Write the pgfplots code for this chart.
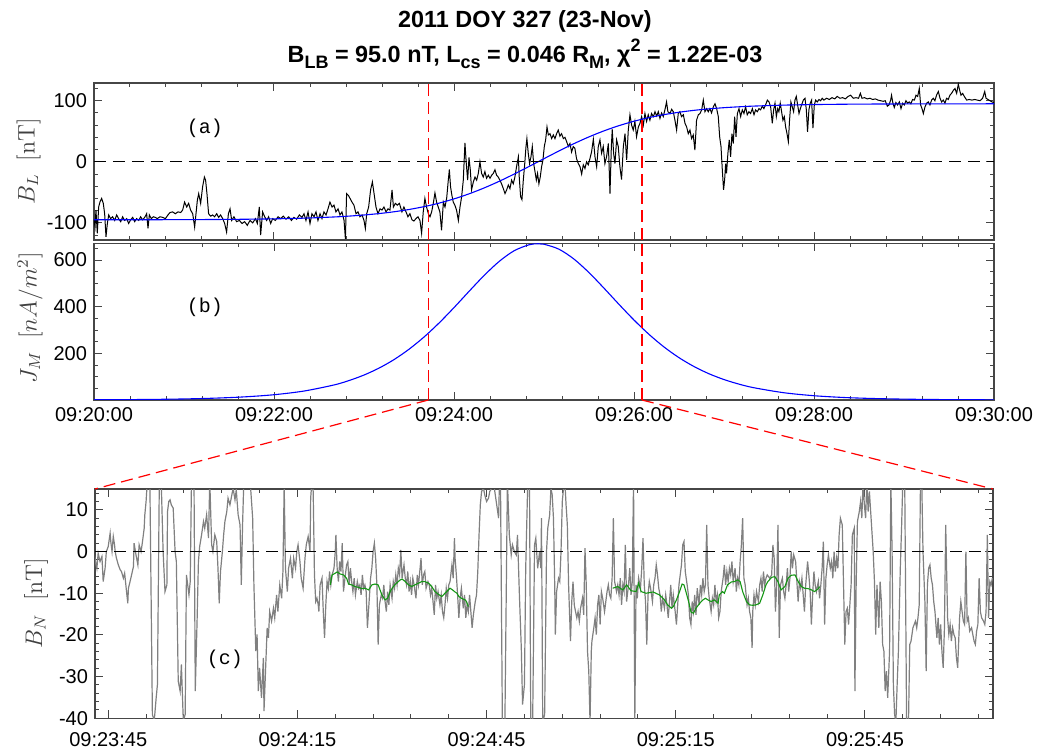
\documentclass[border=0pt]{standalone}
\usepackage[no-math]{fontspec}
\setmainfont{Liberation Sans}
\newfontfamily\panelfont{Liberation Mono}
\usepackage{pgfplots}
\pgfplotsset{compat=1.18}

\definecolor{framegray}{RGB}{70,70,70}
\definecolor{tracegray}{RGB}{128,128,128}
\definecolor{fitgreen}{RGB}{20,150,20}
\definecolor{fitblue}{RGB}{0,0,255}
\definecolor{zoomred}{RGB}{255,0,0}

\newcommand{\sub}[1]{\raisebox{-0.45ex}{\fontsize{9}{10}\selectfont #1}}
\newcommand{\super}[1]{\raisebox{0.95ex}{\fontsize{9}{10}\selectfont #1}}

\tikzset{
  zoomline/.style={zoomred, line width=0.6pt, dash pattern=on 6pt off 3pt},
  zeroline/.style={black, line width=0.5pt, dash pattern=on 6pt off 3.5pt},
}
\pgfplotsset{
  panel/.style={
    scale only axis,
    axis line style={framegray, line width=0.6pt},
    tick style={framegray, line width=0.5pt},
    major tick length=4pt, minor tick length=2pt,
    xtick pos=both, ytick pos=both,
    xticklabel pos=bottom, yticklabel pos=left,
    tick align=inside,
    ticklabel style={font=\fontsize{10}{12}\selectfont, text=black},
    anchor=south west,
  },
}

\begin{document}
\begin{tikzpicture}

% ---------------- (a) B_L with tanh fit ----------------
\begin{axis}[panel, at={(47pt,255pt)}, width=450pt, height=78.5pt,
  xmin=0, xmax=600, ymin=-128, ymax=129,
  xtick={0,120,...,600}, minor xtick={24,48,...,576}, xticklabels={},
  ytick={-100,0,100}, yticklabels={-100,0,100},
  minor ytick={-120,-80,-60,-40,-20,20,40,60,80,120}]
\addplot[black, line width=0.5pt] coordinates {
(0,-95.6) (0.7,-106.6) (1.3,-79) (2.2,-117) (3.1,-74) (4.0,-65.6) (5.1,-60) (6.2,-68) (7.1,-85) (8.0,-123) (8.9,-101) (9.8,-87)
(11.1,-93) (12.4,-90) (13.8,-96) (15.1,-87) (16.4,-93) (17.8,-98) (19.1,-90) (20.4,-96) (21.8,-93) (23.1,-101) (24.4,-95) (25.8,-91)
(27.1,-98) (28.4,-93) (29.8,-96) (31.1,-90) (32.4,-95) (33.8,-91) (35.1,-85) (36.0,-109) (36.9,-87) (38.2,-93) (39.6,-90) (40.9,-91)
(42.2,-93) (44.0,-90) (45.8,-91) (47.6,-93) (49.3,-87) (50.7,-83) (52.4,-82) (54.2,-85) (56.0,-82) (57.8,-83) (59.1,-79) (60.4,-66)
(61.8,-74) (63.1,-68) (64.4,-79) (65.8,-85) (67.1,-107) (68.0,-85) (68.9,-63) (69.8,-52) (71.1,-68) (72.4,-41) (73.6,-25) (74.4,-30)
(75.3,-52) (76.4,-85) (77.8,-89) (79.1,-87) (80.4,-90) (81.8,-85) (83.1,-91) (84.4,-87) (85.8,-93) (87.1,-101) (88.4,-115) (89.6,-85)
(90.7,-77) (91.8,-96) (93.3,-90) (95.1,-98) (96.9,-96) (98.7,-101) (100.4,-98) (102.2,-104) (104.0,-96) (105.8,-100) (107.6,-93)
(108.9,-101) (110.2,-74) (111.1,-120) (112.4,-82) (113.8,-90) (115.1,-96) (116.4,-90) (117.8,-101) (119.1,-93) (120.9,-96) (122.7,-90)
(124.4,-93) (126.2,-89) (128.0,-94) (129.8,-90) (131.6,-96) (133.3,-91) (135.1,-94) (136.9,-87) (138.7,-91) (140.0,-85) (141.3,-96)
(142.7,-82) (144.0,-101) (145.3,-85) (146.7,-90) (148.0,-82) (149.3,-96) (150.7,-85) (152.0,-93) (153.3,-82) (154.7,-87) (156.0,-77)
(157.3,-66) (158.7,-74) (160.0,-71) (161.3,-82) (162.7,-77) (164.0,-87) (165.3,-82) (166.7,-96) (167.6,-126) (168.4,-52) (169.6,-55)
(170.7,-60) (172.0,-66) (173.3,-71) (174.7,-85) (176.0,-82) (177.3,-90) (178.7,-87) (180.0,-96) (180.9,-109) (181.8,-85) (183.1,-74)
(184.4,-46) (185.6,-33) (186.7,-52) (188.0,-74) (189.3,-85) (190.7,-77) (192.0,-79) (193.3,-74) (194.7,-82) (196.0,-77) (197.3,-79)
(198.7,-46) (199.6,-74) (200.9,-68) (202.2,-71) (203.6,-68)
(205.3,-82) (206.6,-74) (208.0,-82) (209.3,-90) (210.6,-85) (212.0,-95) (213.3,-97) (214.6,-93) (216.0,-90) (217.3,-96) (218.4,-117)
(219.5,-82) (220.6,-60) (221.7,-74) (222.9,-85) (224.0,-90) (225.1,-82) (226.2,-68) (227.3,-51) (228.4,-66) (229.5,-74) (230.6,-82)
(231.7,-112) (232.9,-66) (234.0,-74) (235.1,-60) (236.2,-30) (236.9,-12.6) (237.7,-41) (238.6,-55) (239.5,-66) (240.6,-71) (241.7,-79)
(242.9,-96) (244.0,-74) (245.1,-57) (246.2,-30) (247.3,31) (248.2,-3) (249.1,-30) (250.0,7) (250.9,-14) (251.7,-46) (252.9,-33)
(254.0,-25) (255.1,-30) (256.2,-19) (257.3,0) (258.4,-19) (259.5,-25) (260.6,-16) (261.7,-27) (262.9,-22) (264.0,-27) (265.1,-22)
(266.2,-19) (267.3,-13) (268.4,-22) (269.5,-25) (270.6,-30) (271.7,-36) (272.9,-44) (274.0,-52) (275.1,-46) (276.2,-38) (277.3,-44)
(278.4,-30) (279.5,-36) (280.6,-25) (281.7,-8) (282.9,8) (283.5,-25) (284.4,-57) (285.3,-62) (286.2,-30) (287.1,-5) (288.0,25)
(288.6,38) (289.5,14) (290.4,-3) (291.3,8) (292.2,25) (293.1,-3) (294.0,-16) (294.9,-30) (295.7,-19) (296.6,-36) (297.5,-25)
(298.4,-8) (299.3,3) (300.2,25) (301.1,36) (302.0,57) (302.9,44) (304.0,46) (305.1,38) (306.2,44) (307.3,38) (308.4,46) (309.5,52)
(310.6,42) (311.7,46) (312.9,38) (314.0,40) (315.1,33) (316.2,25) (317.3,30) (318.4,16) (319.5,25) (320.6,22) (321.7,5) (322.9,-3)
(324.0,-8) (325.1,-20) (326.2,-5) (327.3,-11) (328.4,0) (329.5,-5) (330.6,5) (331.7,16) (332.9,37) (334.0,8) (335.1,-8) (336.2,25)
(337.3,36) (338.4,14) (339.5,25) (340.6,-3) (341.7,8) (342.9,30) (344.0,-52) (344.9,25) (345.5,53) (346.4,14) (347.3,-3) (348.4,36)
(349.5,25) (350.6,-8) (351.7,-29) (352.9,25) (354.0,46) (355.1,3) (356.2,52) (357.3,77) (358.4,60) (359.5,52) (360.6,66) (361.7,41)
(362.9,57) (364.0,63) (365.1,74) (366.2,60) (367.3,79) (368.4,66) (369.5,77) (370.6,68) (371.7,79) (372.9,74) (374.0,82) (375.1,75)
(376.2,82) (377.3,71) (378.4,80) (379.5,74) (380.6,85) (381.7,98) (382.6,82) (384.0,79) (385.1,86) (386.2,82) (387.3,68) (388.4,52)
(389.5,79) (390.6,82) (391.7,74) (392.9,77) (394.0,63) (395.1,57) (396.2,46) (397.3,52) (398.4,38) (399.5,44) (400.6,19) (401.7,68)
(402.9,77)
(404.0,79) (405.1,85) (406.2,101) (407.3,82) (408.4,87) (409.5,82) (410.6,87) (411.7,80) (412.9,90) (414.0,95) (415.1,87) (416.2,74)
(417.1,41) (418.0,25) (418.9,-14) (419.7,-46) (420.4,-30) (421.1,-3) (421.7,-19) (422.6,14) (423.5,36) (424.4,8) (425.3,46) (426.2,30)
(427.1,74) (428.0,41) (428.9,79) (430.0,87) (431.1,74) (432.2,85) (433.3,79) (434.4,90) (435.5,77) (436.6,82) (437.7,79) (438.9,87)
(440.0,77) (441.1,85) (442.2,82) (443.3,87) (444.4,85) (445.5,91) (446.6,87) (447.7,93) (448.9,101) (450.0,98) (451.1,90) (452.2,63)
(453.1,85) (454.0,96) (454.9,74) (455.8,87) (456.6,82) (457.5,96) (458.4,82) (459.3,68) (460.2,74) (461.1,57) (462.0,46) (462.9,33)
(463.7,68) (464.6,98) (465.5,90) (466.4,82) (467.3,101) (468.2,107) (469.1,93) (470.0,79) (470.9,87) (471.7,93) (472.9,101) (474.0,104)
(474.9,85) (475.7,49) (476.6,85) (477.5,96) (478.4,101) (479.3,55) (480.2,93) (481.1,101) (482.2,98) (483.3,102) (484.4,100) (485.5,104)
(486.6,101) (488.4,104) (490.2,102) (492.0,105) (493.8,103) (495.5,107) (497.3,104) (499.1,105) (500.9,103) (502.7,107) (504.4,109)
(506.2,104) (508.0,105) (509.7,104) (510.9,112) (512.0,104) (513.7,105) (515.5,103) (517.3,104) (519.1,102) (520.9,103) (522.6,101)
(524.4,100) (526.2,99) (527.5,100) (528.9,91) (530.0,93) (531.1,101) (531.7,109) (532.6,96) (533.5,89) (534.6,97) (535.7,93) (536.9,98)
(538.0,87) (539.1,96) (540.2,93) (541.3,100) (542.4,96) (543.5,98) (544.6,95) (545.7,102) (546.9,101) (548.0,109) (549.1,107)
(550.2,120) (551.1,93) (552.0,87) (552.9,79) (554.0,90) (555.1,96) (556.2,98) (557.3,93) (558.4,101) (559.5,104) (560.6,100)
(561.7,109) (562.9,115) (564.0,104) (565.1,98) (566.2,101) (567.3,96) (568.4,104) (569.5,102) (570.6,109) (571.7,112) (572.9,117)
(574.0,120) (575.1,112) (576.2,127) (577.1,117) (578.0,109) (579.1,112) (580.2,107) (581.8,101) (583.5,102) (585.3,101) (587.1,102)
(588.9,101) (590.7,100) (592.4,104) (593.8,115) (594.7,104) (596.0,102) (597.3,100) (598.7,98) (599.9,97)
};
\addplot[fitblue, line width=0.55pt, smooth] coordinates {
(0,-94.94) (20,-94.89) (40,-94.81) (60,-94.68) (80,-94.45) (100,-94.05) (120,-93.38) (140,-92.24) (160,-90.31) (170,-88.89)
(180,-87.08) (190,-84.76) (200,-81.80) (210,-78.06) (220,-73.41) (230,-67.68) (240,-60.73) (250,-52.46) (260,-42.88) (270,-32.08)
(280,-20.21) (290,-7.68) (296,0) (300,5.13) (310,17.76) (320,29.77) (330,40.81) (340,50.65) (350,59.17) (360,66.38) (370,72.35)
(380,77.21) (390,81.12) (400,84.22) (410,86.66) (420,88.57) (430,90.05) (440,91.20) (460,92.77) (480,93.69) (500,94.24) (520,94.55)
(540,94.74) (560,94.85) (580,94.91) (600,94.95)
};
\addplot[zeroline] coordinates {(0,0) (600,0)};
\addplot[zoomline] coordinates {(222.9,-128) (222.9,129)};
\addplot[zoomline] coordinates {(365.3,-128) (365.3,129)};
\node[font=\panelfont\fontsize{10}{12}\selectfont] at (axis cs:74,55) {(a)};
\end{axis}

% ---------------- (b) J_M ----------------
\begin{axis}[panel, at={(47pt,175pt)}, width=450pt, height=78.35pt,
  xmin=0, xmax=600, ymin=0, ymax=672,
  xtick={0,120,...,600}, minor xtick={24,48,...,576},
  xticklabels={09:20:00,09:22:00,09:24:00,09:26:00,09:28:00,09:30:00},
  ytick={200,400,600}, yticklabels={200,400,600},
  minor ytick={50,100,...,650}]
\addplot[fitblue, line width=0.55pt, smooth] coordinates {
(0,0.9) (20,1.5) (40,2.6) (60,4.5) (80,7.8) (100,13.3) (120,22.6) (140,38.4) (160,64.5) (170,83.4) (180,107.0) (190,136.7)
(200,173.2) (210,217.6) (220,270.0) (230,330.0) (240,396.2) (250,465.7) (260,533.5) (270,593.6) (280,639.7) (290,665.6) (296,670)
(300,668.0) (310,646.6) (320,604.2) (330,546.3) (340,479.5) (350,410.1) (360,342.9) (370,281.4) (380,227.4) (390,181.5) (400,143.5)
(410,112.5) (420,87.7) (430,68.0) (440,52.5) (460,31.1) (480,18.3) (500,10.7) (520,6.3) (540,3.7) (560,2.1) (580,1.2) (600,0.7)
};
\addplot[zoomline] coordinates {(222.9,0) (222.9,672)};
\addplot[zoomline] coordinates {(365.3,0) (365.3,672)};
\coordinate (zl) at (axis cs:222.9,0);
\coordinate (zr) at (axis cs:365.3,0);
\node[font=\panelfont\fontsize{10}{12}\selectfont] at (axis cs:74,398) {(b)};
\end{axis}

% ---------------- (c) B_N, zoomed interval ----------------
\begin{axis}[panel, at={(47.5pt,15.85pt)}, width=449pt, height=114.65pt,
  xmin=222.9, xmax=365.3, ymin=-40, ymax=15,
  xtick={225,255,285,315,345},
  xticklabels={09:23:45,09:24:15,09:24:45,09:25:15,09:25:45},
  xticklabel style={yshift=-3.5pt},
  minor xtick={231,237,243,249,261,267,273,279,291,297,303,309,321,327,333,339,351,357,363},
  ytick={-40,-30,...,10}, yticklabels={-40,-30,-20,-10,0,10},
  minor ytick={-38,-36,...,14}]
\addplot[tracegray, line width=0.6pt] coordinates {
(222.6,-2.4) (222.7,-6.4) (222.9,-1.6) (223.2,-4.0) (223.4,-0.4) (223.7,-2.4) (224.0,-1.2) (224.2,-7.2) (224.5,-4.0) (224.7,0)
(225.0,1.2) (225.3,4.4) (225.4,2.4) (225.6,0) (225.8,3.6) (226.0,1.6) (226.1,0) (226.3,-1.6) (226.6,-3.2) (226.9,-4.4) (227.1,-4.8)
(227.4,-6.4) (227.6,-5.2) (227.9,-9.6) (228.1,-12.4) (228.2,-8.8) (228.4,-7.6) (228.7,-5.6) (229.0,-3.6) (229.1,2.0) (229.4,-0.8)
(229.7,-3.2) (229.9,1.6) (230.2,0) (230.4,2.0) (230.7,5.6) (230.8,8.8) (231.0,12.0) (231.2,17) (231.6,17) (232.0,-39.1) (232.3,-40.5)
(232.6,-35.1) (232.8,-31.9) (233.1,17) (233.4,17) (233.7,0) (234.0,-9.6) (234.3,-8.0) (234.4,9.6) (234.6,12.0) (234.8,12.4) (235.0,11.2)
(235.3,10.4) (235.6,0) (235.8,-2.4) (236.1,-31.1) (236.4,-33.5) (236.6,-27.1) (236.9,-40.5) (237.2,-39.1) (237.4,-5.6) (237.6,-8.0)
(237.8,-10.4) (238.0,-7.2) (238.2,17) (238.6,17) (238.8,-33.5) (239.1,-15.9) (239.3,-2.4) (239.5,1.2) (239.8,4.0) (240.1,7.2) (240.3,5.6)
(240.6,8.8) (240.9,3.2) (241.1,17) (241.4,1.6) (241.6,0) (241.9,4.0) (242.2,2.4) (242.4,-4.0) (242.6,-12.4) (242.8,-4.8) (243.1,0)
(243.3,4.0) (243.5,7.2) (243.8,9.6) (244.0,12.8) (244.3,11.2) (244.6,13.6) (244.8,15.2) (245.1,12.4) (245.3,14.8) (245.6,8.8) (245.9,6.4)
(246.1,-8.0) (246.3,6.4) (246.5,17) (246.9,17) (247.5,17) (247.9,8.0) (248.1,-8.0) (248.4,-23.9) (248.6,-19.9) (248.8,-33.5) (249.0,-27.9)
(249.3,-35.1) (249.6,-25.5) (249.7,-38.3) (249.9,-30.3) (250.2,-18.3) (250.4,-20.7) (250.6,-14.4) (250.9,-16.7) (251.2,-13.6) (251.4,-15.9)
(251.7,-10.4) (251.9,-14.4) (252.2,-8.0) (252.5,-11.2) (252.7,-4.8) (252.9,16) (253.1,-4.0) (253.4,-9.6) (253.6,-4.0) (253.9,-1.6)
(254.2,-6.4) (254.4,-1.6) (254.7,-4.0) (254.9,0) (255.1,1.6) (255.4,-2.4) (255.6,-6.4) (255.9,-8.8) (256.2,-1.6) (256.4,1.6) (256.7,3.6)
(257.0,0) (257.1,12.8) (257.3,17) (257.5,14.4) (257.7,-5.6) (257.9,-12.0) (258.1,-11.2) (258.3,-12.8)
(258.4,-14.4) (258.6,-8.0) (258.9,-6.4) (259.1,-14.4) (259.3,-20.7) (259.5,-12.8) (259.7,-7.2) (259.9,-8.8) (260.1,-4.8) (260.3,-8.0)
(260.5,-5.6) (260.8,-4.0) (261.0,0) (261.1,4.0) (261.3,-4.0) (261.5,-7.2) (261.7,-2.4) (261.9,-4.8) (262.1,2.0) (262.3,-9.6) (262.6,-5.6)
(262.8,-3.2) (263.0,-2.4) (263.2,-8.0) (263.4,-4.0) (263.6,-7.2) (263.8,-9.6) (264.0,-6.4) (264.2,-10.4) (264.5,-7.2) (264.7,-8.8)
(264.9,-8.0) (265.1,-10.4) (265.3,-5.6) (265.5,-8.8) (265.7,-8.0) (265.9,-9.6) (266.1,-18.3) (266.4,-11.2) (266.6,-6.4) (266.8,-4.0)
(267.0,0) (267.2,2.0) (267.4,-1.6) (267.6,-8.0) (267.8,-22.3) (268.0,-12.8) (268.3,-10.4) (268.5,-11.2) (268.7,-8.0) (268.9,-12.0)
(269.1,-14.4) (269.3,-9.6) (269.5,-12.8) (269.7,-8.0) (270.0,-11.2) (270.2,-7.2) (270.4,-8.8) (270.6,-5.6) (270.8,-8.0) (271.0,-4.0)
(271.2,-5.6) (271.4,0.4) (271.6,-6.4) (271.9,-3.2) (272.1,-6.4) (272.3,-8.0) (272.5,-4.8) (272.7,-9.6) (272.9,-7.2) (273.1,-10.4)
(273.3,-6.4) (273.5,-8.0) (273.8,-11.2) (274.0,-5.6) (274.2,-8.0) (274.4,-4.8) (274.6,-1.6) (274.8,-8.0) (275.0,-5.6) (275.2,-4.8)
(275.4,-8.8) (275.7,-7.2) (275.9,-8.0) (276.1,-10.4) (276.3,-8.8) (276.5,-12.0) (276.7,-15.2) (276.9,-8.0) (277.1,-11.2) (277.3,-9.6)
(277.6,-12.8) (277.8,-10.4) (278.0,-14.4) (278.2,-15.9) (278.4,-12.8) (278.6,-8.8) (278.8,-11.2) (279.0,-8.0) (279.2,-7.2) (279.5,-3.2)
(279.7,-6.4) (279.9,3.2) (280.0,-1.6) (280.2,-5.6) (280.4,-10.4) (280.6,-15.9) (280.8,-11.2) (281.0,-8.8) (281.3,-13.6) (281.5,-10.4)
(281.7,-15.9) (281.9,-12.8) (282.1,-14.4) (282.3,-10.4) (282.5,-14.4) (282.7,-18.3) (282.9,-15.2) (283.2,-12.0) (283.4,-10.4) (283.6,-4.8)
(283.8,4.0) (284.0,11.2) (284.2,14.4) (284.5,15.2) (284.7,13.6) (285.0,12.0) (285.3,12.8) (285.5,14.4) (285.8,15.2) (286.1,17) (286.3,14.4)
(286.6,11.2) (286.9,8.0) (287.0,14.4) (287.2,17) (287.5,-41) (287.9,-41) (288.3,17) (288.6,4.0) (288.9,-0.8) (289.1,1.6) (289.4,0)
(289.7,-0.8) (289.9,4.0) (290.2,-10.4) (290.5,-23.1) (290.7,-36.7) (291.0,-31.9) (291.2,-4.0) (291.5,15.2) (291.8,17) (292.0,-41) (292.3,-41)
(292.6,1.6) (292.8,3.2) (293.1,-4.0) (293.4,0) (293.6,-4.0)
(293.7,8.0) (293.9,-41) (294.2,-39.1) (294.5,0) (294.7,5.6) (295.0,8.8) (295.2,15.2) (295.4,13.6) (295.6,8.0) (295.8,-8.0) (295.9,-19.9)
(296.1,-9.6) (296.4,-6.4) (296.6,-7.2) (296.8,0) (297.0,12.0) (297.2,15.2) (297.4,17) (297.6,11.2) (297.8,6.4) (298.0,-8.0) (298.3,-21.5)
(298.5,-12.0) (298.7,-7.2) (298.9,-12.8) (299.1,-14.4) (299.3,-15.9) (299.5,-14.4) (299.7,-16.7) (299.9,-13.6) (300.2,-11.2) (300.4,-15.2)
(300.6,0.8) (300.8,-8.0) (301.0,-23.9) (301.2,-28.7) (301.4,-41) (301.6,-23.9) (301.7,-21.5) (302.0,-18.3) (302.2,-15.9) (302.4,-19.9)
(302.6,-12.8) (302.8,-10.4) (303.0,-17.5) (303.2,-9.6) (303.4,-11.2) (303.7,-14.4) (303.9,-12.0) (304.1,-9.6) (304.3,-8.0) (304.5,-10.4)
(304.7,-11.2) (304.9,-6.4) (305.1,8.0) (305.3,-7.2) (305.6,-9.6) (305.8,-8.0) (306.0,-10.4) (306.2,-6.4) (306.4,-12.8) (306.6,-8.0)
(306.8,-9.6) (307.0,1.6) (307.2,-12.0) (307.5,-8.0) (307.7,-4.0) (307.9,-10.4) (308.1,-7.2) (308.3,17) (308.5,-41) (308.7,-8.0)
(308.9,-11.2) (309.1,-6.4) (309.4,-8.8) (309.6,-4.0) (309.8,3.2) (310.0,-8.0) (310.2,-12.0) (310.4,-22.3) (310.6,-10.4) (310.8,-7.2)
(311.0,-8.8) (311.3,-12.0) (311.5,-8.0) (311.7,-6.4) (311.9,-3.2) (312.1,-5.6) (312.3,-8.8) (312.5,-10.4) (312.7,-14.4) (312.9,-11.2)
(313.2,-13.6) (313.4,-10.4) (313.6,-12.8) (313.8,-15.9) (314.0,-12.0) (314.2,-8.0) (314.4,-13.6) (314.6,-10.4) (314.9,-14.4) (315.1,-17.5)
(315.3,-12.8) (315.5,-8.0) (315.7,-5.6) (315.9,-3.2) (316.1,1.6) (316.3,2.4) (316.5,-4.8) (316.8,-8.0) (317.0,-10.4) (317.2,-15.9)
(317.4,-17.5) (317.6,-12.0) (317.8,-14.4) (318.0,-10.4) (318.2,-15.2) (318.4,-8.8) (318.7,-12.8) (318.9,-8.0) (319.1,-10.4) (319.3,-6.4)
(319.5,-9.6) (319.7,-8.0) (319.9,6.4) (320.1,-8.0) (320.3,-11.2) (320.6,-14.4) (320.8,-11.2) (321.0,-12.8) (321.2,-8.0) (321.4,-12.0)
(321.6,-10.4) (321.8,-15.9) (322.0,-14.4) (322.2,-9.6) (322.5,-6.4) (322.7,-3.2) (322.9,-8.0) (323.1,-4.8) (323.3,-7.2) (323.5,-4.0)
(323.7,-5.6) (323.9,-2.4) (324.1,-7.2) (324.4,-4.0) (324.6,-9.6) (324.8,-6.4) (325.0,-8.0) (325.2,-2.4) (325.4,1.6) (325.6,8.0)
(325.8,-6.4) (326.0,-8.0) (326.3,-12.8) (326.5,-11.2) (326.7,-14.4) (326.9,-15.9) (327.1,-23.1) (327.2,-14.4) (327.4,-10.4) (327.6,-12.8)
(327.8,-9.6) (328.1,-12.0) (328.3,-8.0) (328.5,-6.4) (328.7,-9.6) (328.9,-4.8) (329.1,-8.0) (329.3,-6.4) (329.5,-5.6)
(329.9,-6.4) (330.2,-5.6) (330.4,1.6) (330.6,-1.6) (330.8,-14.4) (331.0,-8.0) (331.2,6.4) (331.4,-20.7) (331.6,-8.0) (331.9,-6.4)
(332.1,-9.6) (332.3,-11.2) (332.5,-8.0) (332.7,-4.0) (332.9,-9.6) (333.1,-6.4) (333.3,0) (333.5,-4.0) (333.7,-0.8) (334.0,-2.4)
(334.2,-7.2) (334.4,-12.0) (334.6,-7.2) (334.8,-8.8) (335.0,-6.4) (335.2,-10.4) (335.4,-14.4) (335.6,-8.0) (335.9,-2.4) (336.1,-5.6)
(336.3,-9.6) (336.5,-17.5) (336.7,-10.4) (336.9,-4.8) (337.1,-8.0) (337.3,-9.6) (337.6,-7.2) (337.8,-11.2) (338.0,-8.0) (338.2,-4.0)
(338.4,2.4) (338.6,-17.5) (338.8,-6.4) (339.0,-3.2) (339.2,-0.8) (339.5,-4.0) (339.7,-2.4) (339.9,-6.4) (340.1,0) (340.3,-4.8)
(340.5,-1.6) (340.7,-4.0) (340.9,4.0) (341.1,8.0) (341.4,6.4) (341.6,-8.0) (341.8,-22.3) (342.0,-14.4) (342.2,-13.6) (342.4,-17.5)
(342.6,-12.8) (342.8,-8.0) (343.0,4.0) (343.3,5.6) (343.4,-33.5) (343.6,-8.0) (343.8,7.2) (344.1,9.6) (344.3,12.0) (344.5,8.0) (344.7,17)
(344.9,11.2) (345.1,8.0) (345.3,17) (345.5,9.6) (345.7,14.4) (346.0,7.2) (346.3,0) (346.5,-7.2) (346.7,-19.9) (346.9,-8.0) (347.2,-18.3)
(347.4,-7.2) (347.6,-12.0) (347.8,-22.3) (348.0,-23.9) (348.2,-33.5) (348.4,-28.7) (348.6,-35.1) (348.9,-23.9) (349.1,17) (349.3,0)
(349.5,-31.9) (349.7,-39.1) (349.9,-41) (350.1,-31.9) (350.3,-23.9) (350.6,-4.0) (350.8,5.6) (351.0,17) (351.3,17) (351.6,-41) (351.9,-41)
(352.1,-22.3) (352.3,-21.5) (352.6,-18.3) (352.8,-17.5) (353.0,-16.7) (353.2,-18.3) (353.4,-15.9) (353.6,-12.8) (353.8,17) (354.0,17)
(354.2,0) (354.5,-12.0) (354.7,-28.7) (354.9,-8.0) (355.1,-4.0) (355.3,-3.2) (355.5,-6.4) (355.7,-8.0) (355.9,-12.0) (356.1,-14.4)
(356.4,-20.7) (356.6,-15.9) (356.8,-22.3) (357.0,-17.5) (357.2,-23.9) (357.4,-27.9) (357.6,-18.3) (357.8,6.4) (358.1,-15.9) (358.3,-19.9)
(358.5,-17.5) (358.7,-21.5) (358.9,-18.3) (359.1,-19.9) (359.3,-20.7) (359.5,-25.5) (359.7,-27.9) (360.0,-15.9) (360.2,-12.0) (360.4,-14.4)
(360.6,-16.7) (360.8,-17.5) (361.0,0) (361.2,-16.7) (361.4,-15.9) (361.6,-19.1) (361.9,-18.3) (362.1,-19.9) (362.3,-21.5) (362.5,-22.3)
(362.7,-19.1) (362.9,-17.5) (363.1,-6.4) (363.3,-14.4) (363.5,-15.9) (363.8,-16.7) (364.0,-17.5) (364.2,-14.4) (364.4,4.0) (364.6,-15.9)
(364.8,-7.2) (365.0,-8.0) (365.2,-6.4)
};
\addplot[zeroline] coordinates {(222.9,0) (365.3,0)};
% running mean over the two quiet intervals
\addplot[fitgreen, line width=0.55pt] coordinates {
(260.2,-8.0) (260.5,-5.6) (261.0,-5.2) (261.3,-4.9) (261.8,-5.4) (262.3,-5.6) (262.8,-6.4) (263.1,-7.8) (263.6,-8.0) (264.1,-8.4)
(264.7,-8.6) (265.2,-8.9) (265.7,-8.8) (266.3,-9.2) (266.8,-8.0) (267.3,-7.8) (267.8,-8.0) (268.4,-10.4) (268.9,-11.6) (269.3,-11.2)
(269.7,-9.6) (270.2,-8.4) (270.7,-7.6) (271.3,-6.8) (271.6,-6.6) (272.1,-7.2) (272.6,-8.0) (273.1,-8.4) (273.6,-8.0) (274.2,-7.6)
(274.7,-7.2) (275.2,-7.2) (275.8,-7.6) (276.3,-8.4) (276.8,-9.6) (277.3,-10.2) (277.9,-10.8) (278.4,-10.0) (278.8,-9.4) (279.2,-8.8)
(279.6,-9.2) (279.9,-9.6) (280.3,-10.0) (280.6,-10.8) (281.0,-11.2) (281.6,-11.6) (281.8,-12.0) (282.1,-13.2)
};
\addplot[fitgreen, line width=0.55pt] coordinates {
(305.0,-8.8) (305.8,-8.4) (306.6,-9.2) (307.2,-8.0) (307.9,-9.4) (308.7,-9.6) (309.1,-7.6) (309.5,-9.6) (310.3,-10.0) (311.4,-9.7)
(312.4,-10.4) (313.2,-11.6) (313.7,-12.8) (314.3,-13.6) (314.6,-13.2) (315.1,-11.6) (315.6,-9.6) (316.0,-7.8) (316.3,-8.0) (316.6,-9.6)
(317.1,-12.4) (317.4,-14.5) (317.8,-14.8) (318.2,-13.6) (318.8,-12.4) (319.3,-11.6) (319.7,-11.2) (320.1,-11.6) (320.6,-12.0) (321.1,-11.6)
(321.7,-12.4) (321.9,-10.4) (322.4,-9.6) (322.7,-10.0) (323.2,-8.0) (323.8,-7.3) (324.3,-7.2) (324.8,-6.8) (325.2,-7.2) (325.6,-9.6)
(326.2,-12.0) (326.7,-12.8) (327.2,-12.9) (327.7,-12.8) (328.3,-12.4) (328.8,-10.4) (329.3,-8.0) (329.6,-7.2) (330.2,-6.2) (330.7,-6.0)
(331.2,-7.2) (331.7,-9.2) (332.3,-8.4) (332.8,-6.4) (333.3,-5.7) (333.9,-5.6) (334.4,-7.2) (334.9,-8.4) (335.4,-8.8) (336.0,-8.9)
(336.5,-9.2) (337.0,-9.6) (337.6,-8.9) (337.8,-8.4)
};
\coordinate (cl) at (rel axis cs:0,1);
\coordinate (cr) at (rel axis cs:1,1);
\node[font=\panelfont\fontsize{10}{12}\selectfont] at (axis cs:243.5,-25.8) {(c)};
\end{axis}

% connectors from the marked interval to the zoomed panel
\draw[zoomline] (zl) -- (cl);
\draw[zoomline] (zr) -- (cr);

% axis titles
\node[rotate=90, text=black!75, font=\fontsize{12}{14}\selectfont] at (14.3pt,294.3pt) {$B_L\ \ \mathrm{[nT]}$};
\node[rotate=90, text=black!75, font=\fontsize{12}{14}\selectfont] at (15pt,216pt) {$J_M\ \ [nA/m^2]$};
\node[rotate=90, text=black!75, font=\fontsize{12}{14}\selectfont] at (18pt,73.5pt) {$B_N\ \ \mathrm{[nT]}$};

% figure title
\node[anchor=base, font=\bfseries\fontsize{11.7}{14}\selectfont] at (262.5pt,361pt) {2011 DOY 327 (23-Nov)};
\node[anchor=base, font=\bfseries\fontsize{11.7}{14}\selectfont] at (262.5pt,343.5pt)
  {B\sub{LB} = 95.0 nT, L\sub{cs} = 0.046 R\sub{M}, χ\super{2} = 1.22E-03};

\pgfresetboundingbox
\path[use as bounding box] (0,0) rectangle (525.5pt,375pt);
\end{tikzpicture}
\end{document}
